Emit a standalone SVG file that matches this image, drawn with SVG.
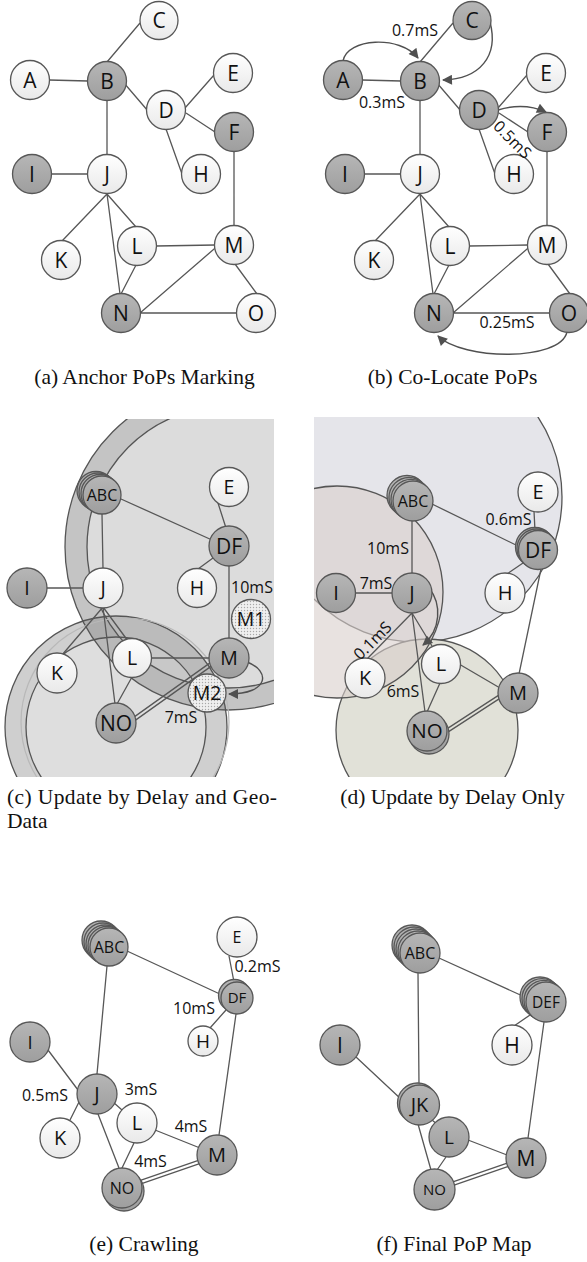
<svg xmlns="http://www.w3.org/2000/svg" width="587" height="1262" viewBox="0 0 587 1262">
<style>
.e{stroke:#575757;stroke-width:1.3;fill:none}
.nd{stroke:#575757;stroke-width:1.3}
.g{fill:url(#gG)}
.w{fill:url(#gW)}
.d{fill:url(#dots)}
.t{font-family:'Open Sans','DejaVu Sans',sans-serif;text-anchor:middle;fill:#111}
.lb{font-family:'Open Sans','DejaVu Sans',sans-serif;font-size:16px;fill:#111;text-anchor:middle}
.cap{font-family:'Liberation Serif','Times New Roman',serif;font-size:21.5px;fill:#111;text-anchor:middle}
.rs{stroke:#555;stroke-width:1.3}
.ar{stroke:#505050;stroke-width:1.4;fill:none;marker-end:url(#arr)}
</style>
<defs>
<linearGradient id="gG" x1="0" y1="0" x2="0" y2="1"><stop offset="0" stop-color="#b6b6b6"/><stop offset="1" stop-color="#9e9e9e"/></linearGradient>
<linearGradient id="gW" x1="0" y1="0" x2="0" y2="1"><stop offset="0" stop-color="#ffffff"/><stop offset="1" stop-color="#e9e9e9"/></linearGradient>
<pattern id="dots" width="3" height="3" patternUnits="userSpaceOnUse"><rect width="3" height="3" fill="#efefef"/><circle cx="1.5" cy="1.5" r="0.7" fill="#a8a8a8"/></pattern>
<marker id="arr" viewBox="0 0 10 10" refX="9" refY="5" markerWidth="11" markerHeight="10" markerUnits="userSpaceOnUse" orient="auto"><path d="M0,0 L10,5 L0,10 z" fill="#505050"/></marker>
<clipPath id="clipC"><rect x="0" y="419" width="274" height="358"/></clipPath>
<clipPath id="clipD"><rect x="314" y="417" width="273" height="360"/></clipPath>
</defs>

<!-- ===== backgrounds (c) ===== -->
<g id="bg-c" clip-path="url(#clipC)">
<circle cx="228" cy="547" r="163" fill="#c4c4c4"/>
<circle cx="228" cy="547" r="141" fill="#dcdcdc"/>
<path d="M5,727 a111,111 0 1,0 222,0 a111,111 0 1,0 -222,0 Z M26,727 a90,90 0 1,1 180,0 a90,90 0 1,1 -180,0 Z" fill="#8c8c8c" fill-opacity="0.42" fill-rule="evenodd"/>
<circle cx="116" cy="727" r="90" fill="#a8a8a8" fill-opacity="0.38"/>
<circle cx="116" cy="727" r="111" fill="none" class="rs"/>
<circle cx="116" cy="727" r="90" fill="none" class="rs"/>
<circle cx="228" cy="547" r="163" fill="none" class="rs"/>
<circle cx="228" cy="547" r="141" fill="none" class="rs"/>
<circle cx="125" cy="722" r="104" fill="none" stroke="#b8b8b8" stroke-width="1.2"/>
</g>

<!-- ===== backgrounds (d) ===== -->
<g id="bg-d" clip-path="url(#clipD)">
<circle cx="417" cy="497" r="145" fill="#e5e5ea" class="rs"/>
<circle cx="427" cy="730" r="91" fill="#e1e1d8" class="rs"/>
<circle cx="337" cy="592" r="106" fill="#d9cecb" fill-opacity="0.6" class="rs"/>
</g>

<!-- ===== connectors ===== -->
<g id="connectors">
<!-- (a) -->
<path class="e" d="M107,62 L140,23 M49,80 L88,81 M124,83 L148,111 M107,100 L107,155 M185,108 L214,75 M186,113 L215,132 M166,129 L182,174 M51,174 L88,174 M234,152 L234,226 M107,194 L62,241 M107,194 L136,227 M107,194 L120,294 M136,265 L121,294 M156,246 L215,245 M221,243 L140,313 M235,264 L257,294 M140,313 L237,313"/>
<!-- (b) -->
<path class="e" d="M420,62 L453,23 M362,80 L401,81 M437,83 L461,111 M420,100 L420,155 M498,108 L527,75 M499,113 L528,132 M479,129 L495,174 M364,174 L401,174 M547,152 L547,226 M420,194 L375,241 M420,194 L449,227 M420,194 L433,294 M449,265 L434,294 M469,246 L528,245 M534,243 L453,313 M548,264 L570,294 M453,313 L550,313"/>
<path class="ar" d="M343,61 C347,38 400,35 418,58"/>
<path class="ar" d="M490,22 C499,56 480,79 443,80"/>
<path class="ar" d="M498,110 Q524,102 546,112"/>
<path class="ar" d="M567,332 C560,362 462,360 438,336"/>
<!-- (c) -->
<path class="e" d="M102,514 L103,569 M121,499 L212,540 M218,503 L226,528 M213,558 L198,569 M46,588 L84,588 M229,565 L229,640 M103,607 L62,655 M103,607 L128,641 M103,607 L115,704 M132,677 L117,704 M151,658 L210,658"/>
<path class="e" d="M129.0,720.6 L216.0,658.6 M131.0,723.4 L218.0,661.4"/>
<path class="ar" d="M247,662 C271,671 269,694 229,694"/>
<!-- (d) -->
<path class="e" d="M412,520 L412,575 M432,504 L520,547 M534,511 L535,531 M523,563 L507,574 M355,593 L393,593 M412,613 L367,659 M412,613 L432,646 M412,613 L425,712 M440,683 L427,712 M459,664 L500,688 M541,569 L519,674"/>
<path class="e" d="M441.1,732.6 L501.1,693.6 M442.9,735.4 L502.9,696.4"/>
<path class="ar" d="M429,588 C442,604 441,630 423,645"/>
<!-- (e) -->
<path class="e" d="M107,966 L97,1074 M127,951 L222,995 M229,956 L234,982 M226,1010 L210,1028 M236,1014 L219,1135 M48,1050 L78,1090 M80,1100 L70,1120 M113,1102 L122,1110 M98,1114 L119,1168 M134,1143 L122,1168 M155,1130 L200,1148"/>
<path class="e" d="M140.4,1180.4 L198.4,1160.4 M141.6,1183.6 L199.6,1163.6"/>
<!-- (f) -->
<path class="e" d="M418,973 L419,1085 M439,958 L527,998 M530,1015 L514,1026 M544,1022 L528,1138 M356,1057 L402,1100 M432,1120 L438,1125 M418,1124 L431,1170 M446,1157 L437,1170 M468,1140 L507,1155"/>
<path class="e" d="M452.9,1181.9 L507.9,1162.9 M454.1,1185.1 L509.1,1166.1"/>
</g>

<!-- ===== (a) nodes ===== -->
<g id="a-A"><circle class="nd w" cx="30" cy="80" r="19.5"/><text class="t" x="30" y="87.6" font-size="21">A</text></g>
<g id="a-B"><circle class="nd g" cx="107" cy="81" r="19.5"/><text class="t" x="107" y="88.6" font-size="21">B</text></g>
<g id="a-C"><circle class="nd w" cx="159" cy="20.5" r="19"/><text class="t" x="159" y="28" font-size="21">C</text></g>
<g id="a-D"><circle class="nd w" cx="166" cy="110" r="19.5"/><text class="t" x="166" y="117.6" font-size="21">D</text></g>
<g id="a-E"><circle class="nd w" cx="233" cy="73" r="19.5"/><text class="t" x="233" y="80.6" font-size="21">E</text></g>
<g id="a-F"><circle class="nd g" cx="234" cy="132" r="19.5"/><text class="t" x="234" y="139.6" font-size="21">F</text></g>
<g id="a-H"><circle class="nd w" cx="201" cy="174" r="19.5"/><text class="t" x="201" y="181.6" font-size="21">H</text></g>
<g id="a-I"><circle class="nd g" cx="32" cy="174" r="19.5"/><text class="t" x="32" y="181.6" font-size="21">I</text></g>
<g id="a-J"><circle class="nd w" cx="107" cy="174" r="19.5"/><text class="t" x="107" y="181.6" font-size="21">J</text></g>
<g id="a-K"><circle class="nd w" cx="61" cy="260" r="19.5"/><text class="t" x="61" y="267.6" font-size="21">K</text></g>
<g id="a-L"><circle class="nd w" cx="137" cy="246" r="19.5"/><text class="t" x="137" y="253.6" font-size="21">L</text></g>
<g id="a-M"><circle class="nd w" cx="234" cy="245" r="19.5"/><text class="t" x="234" y="252.6" font-size="21">M</text></g>
<g id="a-N"><circle class="nd g" cx="121" cy="313" r="19.5"/><text class="t" x="121" y="320.6" font-size="21">N</text></g>
<g id="a-O"><circle class="nd w" cx="256" cy="313" r="19.5"/><text class="t" x="256" y="320.6" font-size="21">O</text></g>

<!-- ===== (b) nodes ===== -->
<g id="b-A"><circle class="nd g" cx="343" cy="80" r="19.5"/><text class="t" x="343" y="87.6" font-size="21">A</text></g>
<g id="b-B"><circle class="nd g" cx="420" cy="81" r="19.5"/><text class="t" x="420" y="88.6" font-size="21">B</text></g>
<g id="b-C"><circle class="nd g" cx="472" cy="20.5" r="19"/><text class="t" x="472" y="28" font-size="21">C</text></g>
<g id="b-D"><circle class="nd g" cx="479" cy="110" r="19.5"/><text class="t" x="479" y="117.6" font-size="21">D</text></g>
<g id="b-E"><circle class="nd w" cx="546" cy="73" r="19.5"/><text class="t" x="546" y="80.6" font-size="21">E</text></g>
<g id="b-F"><circle class="nd g" cx="547" cy="132" r="19.5"/><text class="t" x="547" y="139.6" font-size="21">F</text></g>
<g id="b-H"><circle class="nd w" cx="514" cy="174" r="19.5"/><text class="t" x="514" y="181.6" font-size="21">H</text></g>
<g id="b-I"><circle class="nd g" cx="345" cy="174" r="19.5"/><text class="t" x="345" y="181.6" font-size="21">I</text></g>
<g id="b-J"><circle class="nd w" cx="420" cy="174" r="19.5"/><text class="t" x="420" y="181.6" font-size="21">J</text></g>
<g id="b-K"><circle class="nd w" cx="374" cy="260" r="19.5"/><text class="t" x="374" y="267.6" font-size="21">K</text></g>
<g id="b-L"><circle class="nd w" cx="450" cy="246" r="19.5"/><text class="t" x="450" y="253.6" font-size="21">L</text></g>
<g id="b-M"><circle class="nd w" cx="547" cy="245" r="19.5"/><text class="t" x="547" y="252.6" font-size="21">M</text></g>
<g id="b-N"><circle class="nd g" cx="434" cy="313" r="19.5"/><text class="t" x="434" y="320.6" font-size="21">N</text></g>
<g id="b-O"><circle class="nd g" cx="569" cy="313" r="19.5"/><text class="t" x="569" y="320.6" font-size="21">O</text></g>
<g id="b-labels">
<text class="lb" x="415" y="36">0.7mS</text>
<text class="lb" x="382" y="108">0.3mS</text>
<text class="lb" transform="translate(512,140) rotate(45)" x="0" y="5">0.5mS</text>
<text class="lb" x="507" y="328">0.25mS</text>
</g>

<!-- ===== (c) nodes ===== -->
<g id="c-ABC"><circle class="nd g" cx="96" cy="490.5" r="19"/><circle class="nd g" cx="98" cy="492" r="19"/><circle class="nd g" cx="100" cy="493.5" r="19"/><circle class="nd g" cx="102" cy="495" r="19"/><text class="t" x="102" y="500.8" font-size="16">ABC</text></g>
<g id="c-E"><circle class="nd w" cx="229" cy="487" r="19.5"/><text class="t" x="229" y="494" font-size="19.5">E</text></g>
<g id="c-DF"><circle class="nd g" cx="229" cy="546" r="20"/><text class="t" x="229" y="553.6" font-size="21">DF</text></g>
<g id="c-H"><circle class="nd w" cx="197" cy="588" r="19.5"/><text class="t" x="197" y="595" font-size="19.5">H</text></g>
<g id="c-I"><circle class="nd g" cx="27" cy="588" r="20"/><text class="t" x="27" y="595" font-size="19.5">I</text></g>
<g id="c-J"><circle class="nd w" cx="103" cy="588" r="20"/><text class="t" x="103" y="595" font-size="19.5">J</text></g>
<g id="c-M1"><circle class="nd d" cx="251" cy="619" r="19.5"/><text class="t" x="251" y="626" font-size="19.5">M1</text></g>
<g id="c-K"><circle class="nd w" cx="57" cy="673" r="20"/><text class="t" x="57" y="680" font-size="19.5">K</text></g>
<g id="c-L"><circle class="nd w" cx="132" cy="658" r="19.5"/><text class="t" x="132" y="665" font-size="19.5">L</text></g>
<g id="c-M"><circle class="nd g" cx="229" cy="658" r="20"/><text class="t" x="229" y="665" font-size="19.5">M</text></g>
<g id="c-M2"><circle class="nd d" cx="207" cy="693" r="19"/><text class="t" x="207" y="700" font-size="19.5">M2</text></g>
<g id="c-NO"><circle class="nd g" cx="116" cy="723" r="20"/><text class="t" x="116" y="730.6" font-size="21">NO</text></g>
<g id="c-labels">
<text class="lb" x="252" y="593">10mS</text>
<text class="lb" x="181" y="723">7mS</text>
</g>

<!-- ===== (d) nodes ===== -->
<g id="d-ABC"><circle class="nd g" cx="407" cy="495.5" r="20"/><circle class="nd g" cx="409" cy="497.5" r="20"/><circle class="nd g" cx="411" cy="499.3" r="20"/><circle class="nd g" cx="413" cy="501" r="20"/><text class="t" x="413" y="506.8" font-size="16">ABC</text></g>
<g id="d-E"><circle class="nd w" cx="538" cy="492" r="20"/><text class="t" x="538" y="499.2" font-size="20">E</text></g>
<g id="d-DF"><circle class="nd g" cx="535" cy="547" r="19.5"/><circle class="nd g" cx="536.5" cy="548.5" r="19.5"/><circle class="nd g" cx="538" cy="550" r="19.5"/><text class="t" x="538" y="557.6" font-size="21">DF</text></g>
<g id="d-I"><circle class="nd g" cx="336" cy="593" r="19.5"/><text class="t" x="336" y="600.2" font-size="20">I</text></g>
<g id="d-J"><circle class="nd g" cx="412" cy="593" r="20"/><text class="t" x="412" y="600.2" font-size="20">J</text></g>
<g id="d-H"><circle class="nd w" cx="505" cy="593" r="20"/><text class="t" x="505" y="600.2" font-size="20">H</text></g>
<g id="d-K"><circle class="nd w" cx="365" cy="678" r="20"/><text class="t" x="365" y="685.2" font-size="20">K</text></g>
<g id="d-L"><circle class="nd w" cx="441" cy="664" r="19.5"/><text class="t" x="441" y="671.2" font-size="20">L</text></g>
<g id="d-M"><circle class="nd g" cx="518" cy="693" r="20"/><text class="t" x="518" y="700.2" font-size="20">M</text></g>
<g id="d-NO"><circle class="nd g" cx="429" cy="734" r="20"/><circle class="nd g" cx="427" cy="731" r="20"/><text class="t" x="427" y="738.4" font-size="20.5">NO</text></g>
<g id="d-labels">
<text class="lb" x="508.5" y="525">0.6mS</text>
<text class="lb" x="388" y="554">10mS</text>
<text class="lb" x="376" y="589">7mS</text>
<text class="lb" transform="translate(373,641) rotate(-45)" x="0" y="5">0.1mS</text>
<text class="lb" x="403" y="697">6mS</text>
</g>

<!-- ===== (e) nodes ===== -->
<g id="e-ABC"><circle class="nd g" cx="101" cy="940" r="19"/><circle class="nd g" cx="103" cy="942" r="19"/><circle class="nd g" cx="105" cy="944" r="19"/><circle class="nd g" cx="107" cy="945.5" r="19"/><circle class="nd g" cx="109" cy="947" r="19"/><text class="t" x="109" y="952.8" font-size="16">ABC</text></g>
<g id="e-E"><circle class="nd w" cx="237" cy="937" r="20"/><text class="t" x="237" y="942.8" font-size="16">E</text></g>
<g id="e-DF"><circle class="nd g" cx="234.5" cy="995.5" r="16"/><circle class="nd g" cx="237" cy="998" r="16"/><text class="t" x="237" y="1003.4" font-size="15">DF</text></g>
<g id="e-H"><circle class="nd w" cx="203" cy="1041" r="15"/><text class="t" x="203" y="1047.8" font-size="19">H</text></g>
<g id="e-I"><circle class="nd g" cx="30" cy="1042" r="20"/><text class="t" x="30" y="1048.6" font-size="18.5">I</text></g>
<g id="e-J"><circle class="nd g" cx="97" cy="1094" r="20"/><text class="t" x="97" y="1101.2" font-size="20">J</text></g>
<g id="e-K"><circle class="nd w" cx="60" cy="1138" r="20"/><text class="t" x="60" y="1145.2" font-size="20">K</text></g>
<g id="e-L"><circle class="nd w" cx="137" cy="1123" r="20"/><text class="t" x="137" y="1130.2" font-size="20">L</text></g>
<g id="e-M"><circle class="nd g" cx="217" cy="1155" r="20"/><text class="t" x="217" y="1162.2" font-size="20">M</text></g>
<g id="e-NO"><circle class="nd g" cx="124" cy="1191" r="20"/><circle class="nd g" cx="122" cy="1188" r="20"/><text class="t" x="122" y="1193.8" font-size="16">NO</text></g>
<g id="e-labels">
<text class="lb" x="257.5" y="972">0.2mS</text>
<text class="lb" x="194" y="1014">10mS</text>
<text class="lb" x="45" y="1101">0.5mS</text>
<text class="lb" x="141" y="1094.5">3mS</text>
<text class="lb" x="191" y="1132">4mS</text>
<text class="lb" x="150.5" y="1167">4mS</text>
</g>

<!-- ===== (f) nodes ===== -->
<g id="f-ABC"><circle class="nd g" cx="412" cy="945" r="20"/><circle class="nd g" cx="414" cy="947" r="20"/><circle class="nd g" cx="416" cy="949" r="20"/><circle class="nd g" cx="418" cy="951" r="20"/><circle class="nd g" cx="420" cy="953" r="20"/><text class="t" x="420" y="958.8" font-size="16">ABC</text></g>
<g id="f-DEF"><circle class="nd g" cx="540" cy="997" r="20"/><circle class="nd g" cx="542" cy="998.7" r="20"/><circle class="nd g" cx="544" cy="1000.4" r="20"/><circle class="nd g" cx="546" cy="1002" r="20"/><text class="t" x="546" y="1007.6" font-size="15.5">DEF</text></g>
<g id="f-H"><circle class="nd w" cx="512" cy="1045" r="20"/><text class="t" x="512" y="1052.6" font-size="21">H</text></g>
<g id="f-I"><circle class="nd g" cx="340" cy="1045" r="20"/><text class="t" x="340" y="1052.6" font-size="21">I</text></g>
<g id="f-JK"><circle class="nd g" cx="417.5" cy="1103" r="20"/><circle class="nd g" cx="419.5" cy="1105" r="20"/><text class="t" x="419.5" y="1112.2" font-size="20">JK</text></g>
<g id="f-L"><circle class="nd g" cx="449" cy="1137" r="20"/><text class="t" x="449" y="1143.8" font-size="19">L</text></g>
<g id="f-M"><circle class="nd g" cx="526" cy="1158" r="20"/><text class="t" x="526" y="1165.6" font-size="21">M</text></g>
<g id="f-NO"><circle class="nd g" cx="434.5" cy="1189.5" r="20.5"/><text class="t" x="434.5" y="1194.9" font-size="15">NO</text></g>

<!-- ===== captions ===== -->
<g id="captions">
<text class="cap" x="144.5" y="384">(a) Anchor PoPs Marking</text>
<text class="cap" x="452.5" y="384">(b) Co-Locate PoPs</text>
<text class="cap" x="7" y="804" text-anchor="start" style="text-anchor:start" textLength="270" lengthAdjust="spacing">(c) Update by Delay and Geo-</text>
<text class="cap" x="7" y="828" style="text-anchor:start">Data</text>
<text class="cap" x="452.5" y="804">(d) Update by Delay Only</text>
<text class="cap" x="144" y="1251">(e) Crawling</text>
<text class="cap" x="454" y="1251">(f) Final PoP Map</text>
</g>
</svg>
